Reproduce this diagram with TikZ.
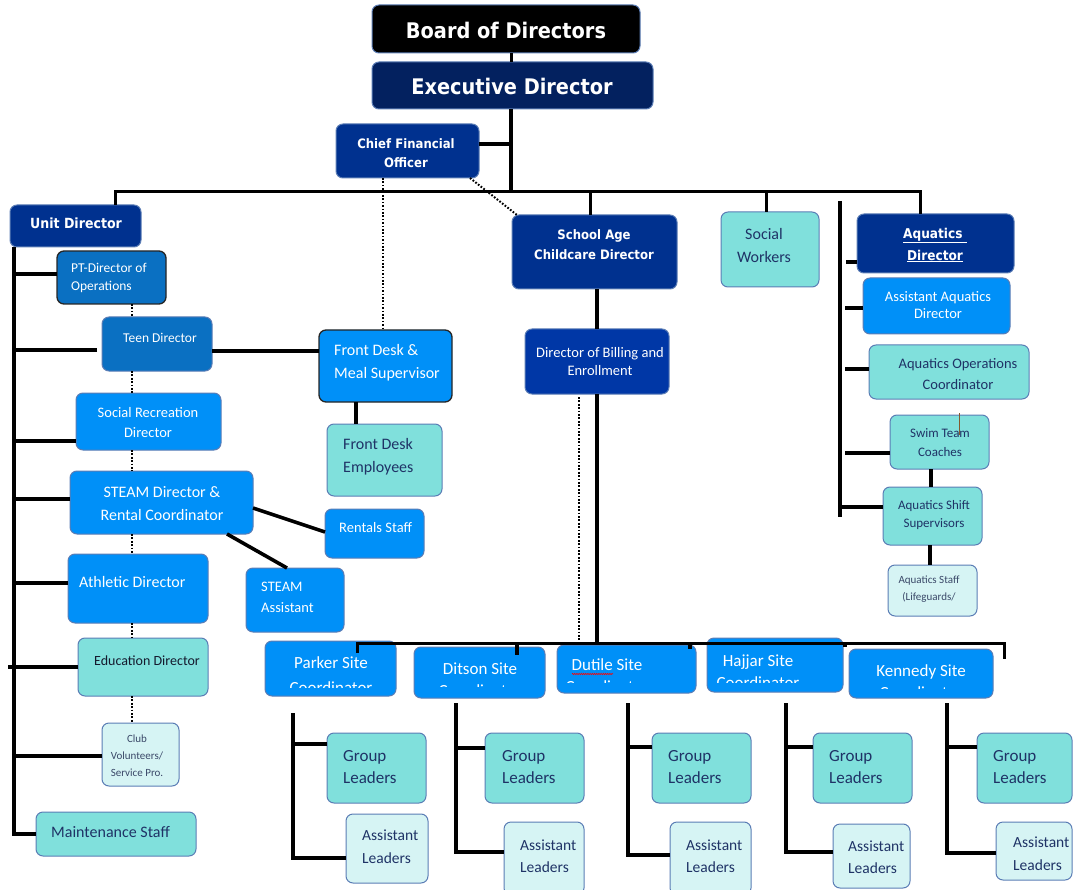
\documentclass[tikz,border=0pt]{standalone}
\usepackage{fontspec}
\setmainfont{Carlito}
\newfontfamily\hf{DejaVu Sans}[FakeStretch=0.9]
\usetikzlibrary{decorations.pathmorphing}
\definecolor{navyb}{HTML}{00318F}
\definecolor{execb}{HTML}{03215F}
\definecolor{billb}{HTML}{0037A6}
\definecolor{midb}{HTML}{0A70C2}
\definecolor{brightb}{HTML}{0090F8}
\definecolor{tealb}{HTML}{80E0DC}
\definecolor{lightb}{HTML}{D6F4F4}
\definecolor{bord}{HTML}{5B7DB5}
\definecolor{navtx}{HTML}{1F3366}
\definecolor{graytx}{HTML}{3A4868}
\definecolor{darktx}{HTML}{151A2E}
\newcommand\fs[2]{\fontsize{#1}{#2}\selectfont}
\newcommand\bx[6]{\node[box,#6,minimum width={#4-#2},minimum height={#5-#3}] (#1) at ({(#2+#4)/2},{(#3+#5)/2}) {};}
\newcommand\tx[5]{\node[#2] (#1) at (#3,#4) {#5};}
\begin{document}
\begin{tikzpicture}[x=1pt,y=-1pt,
  box/.style={draw=bord,line width=1pt,rounded corners=7pt,inner sep=0pt,outer sep=0pt},
  dk/.style={draw=black!85,line width=1.3pt},
  conn/.style={line width=3.6pt,black},
  bar/.style={line width=3pt,black},
  dotl/.style={line width=2pt,black,dash pattern=on 1.7pt off 1.7pt},
  wt/.style={text=white,inner sep=0pt,align=center},
  nt/.style={text=navtx,inner sep=0pt,align=center},
  lft/.style={anchor=west,align=left}]
\useasboundingbox (0,0) rectangle (1073,890);
% ---------- boxes ----------
\bx{board}{372}{5}{640}{53}{fill=black}
\bx{exec}{372}{62}{653}{109}{fill=execb}
\bx{cfo}{336}{124}{479}{178}{fill=navyb}
\bx{ud}{10}{205}{141}{247}{fill=navyb}
\bx{sa}{512}{215}{677}{289}{fill=navyb}
\bx{sw}{721}{212}{819}{287}{fill=tealb}
\bx{aq}{857}{214}{1014}{273}{fill=navyb}
\bx{aqa}{863}{278}{1010}{334}{fill=brightb}
\bx{aqo}{869}{345}{1029}{399}{fill=tealb}
\bx{swim}{890}{415}{989}{469}{fill=tealb}
\bx{shift}{883}{487}{982}{545}{fill=tealb}
\bx{staff}{888}{565}{977}{616}{fill=lightb}
\bx{bill}{525}{329}{669}{394}{fill=billb}
\bx{pt}{57}{251}{166}{304}{fill=midb,dk}
\bx{teen}{102}{317}{212}{371}{fill=midb}
\bx{socrec}{76}{393}{221}{450}{fill=brightb}
\bx{steam}{70}{471}{253}{534}{fill=brightb}
\bx{ath}{68}{554}{208}{623}{fill=brightb}
\bx{edu}{78}{638}{208}{696}{fill=tealb}
\bx{club}{102}{723}{179}{786}{fill=lightb}
\bx{maint}{36}{812}{196}{856}{fill=tealb}
\bx{fd}{319}{330}{452}{402}{fill=brightb,dk}
\bx{fde}{327}{424}{442}{496}{fill=tealb}
\bx{rent}{325}{509}{424}{558}{fill=brightb}
\bx{sta}{246}{568}{344}{632}{fill=brightb}
\bx{pk}{265}{641}{396}{696}{fill=brightb}
\bx{dt}{414}{647}{545}{698}{fill=brightb}
\bx{du}{557}{645}{696}{693}{fill=brightb}
\bx{hj}{707}{638}{843}{692}{fill=brightb}
\bx{kn}{849}{649}{993}{698}{fill=brightb}
\bx{pkg}{327}{733}{426}{803}{fill=tealb}
\bx{pka}{346}{814}{428}{883}{fill=lightb}
\bx{dtg}{485}{733}{584}{803}{fill=tealb}
\bx{dta}{504}{822}{584}{895}{fill=lightb}
\bx{dug}{652}{733}{751}{803}{fill=tealb}
\bx{dua}{670}{822}{751}{895}{fill=lightb}
\bx{hjg}{813}{733}{912}{803}{fill=tealb}
\bx{hja}{833}{824}{910}{888}{fill=lightb}
\bx{kng}{977}{733}{1072}{803}{fill=tealb}
\bx{kna}{996}{822}{1072}{880}{fill=lightb}
% ---------- texts ----------
\tx{boardt}{wt,font=\hf\bfseries\fs{21.5}{26}}{506}{30}{Board of Directors}
\tx{exect}{wt,font=\hf\bfseries\fs{21.5}{26}}{512}{86}{Executive Director}
\tx{cfot}{wt,font=\hf\bfseries\fs{13}{19}}{406}{153}{Chief Financial\\Officer}
\tx{udt}{wt,font=\hf\bfseries\fs{14}{18}}{76}{223}{Unit Director}
\tx{sat}{wt,font=\hf\bfseries\fs{13}{20}}{594}{245}{School Age\\Childcare Director}
\tx{aqt}{wt,font=\hf\bfseries\fs{13.5}{22}}{935}{245}{\underline{Aquatics\ }\\\underline{Director}}
\tx{swt}{nt,font=\fs{16}{23}}{764}{246}{Social\\Workers}
\tx{aqat}{wt,font=\fs{14.5}{17}}{938}{305}{Assistant Aquatics\\Director}
\tx{aqot}{nt,font=\fs{14.5}{21}}{958}{374}{Aquatics Operations\\Coordinator}
\tx{swimt}{nt,font=\fs{13}{19}}{940}{443}{Swim Team\\Coaches}
\tx{shiftt}{nt,font=\fs{13}{18}}{934}{515}{Aquatics Shift\\Supervisors}
\tx{stafft}{text=graytx,inner sep=0pt,align=center,font=\fs{11}{17}}{929}{589}{Aquatics Staff\\(Lifeguards/}
\tx{billt}{wt,font=\fs{14.5}{18}}{600}{362}{Director of Billing and\\Enrollment}
\tx{ptt}{wt,lft,font=\fs{13.5}{18}}{71}{278}{PT-Director of\\Operations}
\tx{teent}{wt,font=\fs{13.5}{17}}{160}{338}{Teen Director}
\tx{socrect}{wt,font=\fs{14.5}{20}}{148}{423}{Social Recreation\\Director}
\tx{steamt}{wt,font=\fs{16}{23}}{162}{504}{STEAM Director \&\\Rental Coordinator}
\tx{atht}{wt,lft,font=\fs{16}{20}}{79}{582}{Athletic Director}
\tx{edut}{text=darktx,inner sep=0pt,lft,font=\fs{14}{18}}{94}{661}{Education Director}
\tx{clubt}{text=graytx,inner sep=0pt,align=center,font=\fs{11}{17}}{137}{756}{Club\\Volunteers/\\Service Pro.}
\tx{maintt}{nt,lft,font=\fs{16}{20}}{51}{832}{Maintenance Staff}
\tx{fdt}{wt,lft,font=\fs{16}{23}}{334}{363}{Front Desk \&\\Meal Supervisor}
\tx{fdet}{nt,lft,font=\fs{16}{23}}{343}{457}{Front Desk\\Employees}
\tx{rentt}{wt,lft,font=\fs{14.5}{18}}{339}{528}{Rentals Staff}
\tx{stat}{wt,lft,font=\fs{14.5}{21}}{261}{597}{STEAM\\Assistant}
% site names (second line cut off by the box)
\begin{scope}
\clip (265,641) rectangle (396,687);
\tx{pkt}{wt,font=\fs{17}{25}}{331}{675}{Parker Site\\Coordinator}
\end{scope}
\begin{scope}
\clip (414,647) rectangle (545,686);
\tx{dtt}{wt,font=\fs{17}{22}}{480}{680}{Ditson Site\\Coordinator}
\end{scope}
\begin{scope}
\clip (557,645) rectangle (696,682);
\tx{dut}{wt,font=\fs{17}{22}}{607}{676}{Dutile Site\\Coordinator}
\end{scope}
\begin{scope}
\clip (707,638) rectangle (843,682);
\tx{hjt}{wt,font=\fs{17}{22}}{758}{672}{Hajjar Site\\Coordinator}
\end{scope}
\begin{scope}
\clip (849,649) rectangle (993,688);
\tx{knt}{wt,font=\fs{17}{22}}{921}{682}{Kennedy Site\\Coordinator}
\end{scope}
\draw[red,line width=0.6pt,decorate,decoration={zigzag,segment length=2.2pt,amplitude=0.7pt}] (572,674) -- (613,674);
% group / assistant texts
\tx{pkgt}{nt,lft,font=\fs{17}{22}}{343}{767}{Group\\Leaders}
\tx{dtgt}{nt,lft,font=\fs{17}{22}}{502}{767}{Group\\Leaders}
\tx{dugt}{nt,lft,font=\fs{17}{22}}{668}{767}{Group\\Leaders}
\tx{hjgt}{nt,lft,font=\fs{17}{22}}{829}{767}{Group\\Leaders}
\tx{kngt}{nt,lft,font=\fs{17}{22}}{993}{767}{Group\\Leaders}
\tx{pkat}{nt,lft,font=\fs{15.5}{23}}{362}{847}{Assistant\\Leaders}
\tx{dtat}{nt,lft,font=\fs{15.5}{22}}{520}{856}{Assistant\\Leaders}
\tx{duat}{nt,lft,font=\fs{15.5}{22}}{686}{856}{Assistant\\Leaders}
\tx{hjat}{nt,lft,font=\fs{15.5}{22}}{848}{857}{Assistant\\Leaders}
\begin{scope}
\clip (996,822) rectangle (1072,872);
\tx{knat}{nt,lft,font=\fs{15.5}{23}}{1013}{854}{Assistant\\Leaders}
\end{scope}
% Swim Team mark
\draw[brown!70!black,line width=0.7pt] (959,413) -- (959,435);
% ---------- connectors ----------
\coordinate (jx) at (511,192);
\coordinate (barL) at (115,192);
\coordinate (barR) at (920,192);
\draw[bar] (board.south -| jx) -- (exec.north -| jx);
\draw[conn] (exec.south -| jx) -- (jx);
\draw[conn] ([yshift=7pt]cfo.east) -- ([yshift=7pt]cfo.east -| jx);
\draw[bar] (ud.north -| barL) -- (barL) -- (barR) -- (aq.north -| barR);
\draw[bar] ([xshift=-4.5pt]sa.north) -- ([xshift=-4.5pt]sa.north |- barL);
\draw[bar] ([xshift=-4pt]sw.north) -- ([xshift=-4pt]sw.north |- barL);
\draw[dotl] ([xshift=-24.5pt]cfo.south) -- ([xshift=-24.5pt]cfo.south |- fd.north);
\draw[dotl] ([xshift=-9pt]cfo.south east) -- ([xshift=5pt]sa.north west);
% left column
\coordinate (ls) at (14,247);
\coordinate (dl) at (132,300);
\draw[conn] (ls) |- (maint.west);
\draw[conn] ([yshift=3.5pt]pt.west) -- ([yshift=3.5pt]pt.west -| ls);
\draw[conn] ([yshift=-6pt,xshift=-5pt]teen.west) -- ([yshift=-6pt]teen.west -| ls);
\draw[conn] ([yshift=-19.5pt]socrec.west) -- ([yshift=-19.5pt]socrec.west -| ls);
\draw[conn] ([yshift=3.5pt]steam.west) -- ([yshift=3.5pt]steam.west -| ls);
\draw[conn] ([yshift=5.5pt]ath.west) -- ([yshift=5.5pt]ath.west -| ls);
\draw[conn] (edu.west) -- ([xshift=-6pt]edu.west -| ls);
\draw[conn] ([yshift=-1.5pt]club.west) -- ([yshift=-1.5pt]club.west -| ls);
\draw[dotl] (pt.south -| dl) -- (teen.north -| dl);
\draw[dotl] (teen.south -| dl) -- (socrec.north -| dl);
\draw[dotl] (socrec.south -| dl) -- (steam.north -| dl);
\draw[dotl] (steam.south -| dl) -- (ath.north -| dl);
\draw[dotl] (ath.south -| dl) -- (edu.north -| dl);
\draw[dotl] (edu.south -| dl) -- (club.north -| dl);
\draw[conn] ([yshift=-7pt]teen.east) -- ([yshift=-7pt]teen.east -| fd.west);
\draw[conn] ([xshift=-29.5pt]fd.south) -- ([xshift=-29.5pt]fd.south |- fde.north);
\draw[conn] ([yshift=-5.5pt]steam.east) -- ([yshift=1.5pt]rent.west);
\draw[conn] ([xshift=65.5pt]steam.south) -- ([xshift=-8pt]sta.north);
% school age column
\coordinate (sbL) at (357,643);
\coordinate (sbR) at (1004,643);
\coordinate (dtd) at (517,643);
\coordinate (dud) at (690,643);
\coordinate (hjd) at (845,643);
\draw[conn] ([xshift=2.5pt]sa.south) -- ([xshift=2.5pt]sa.south |- bill.north);
\draw[conn] (bill.south) -- (bill.south |- sbL);
\draw[dotl] ([xshift=-18pt,yshift=-3pt]bill.south) -- ([xshift=-18pt]bill.south |- 0,640);
\draw[bar] ([yshift=-12pt]pk.north -| sbL) -- (sbL) -- (sbR) -- ([yshift=-10pt]kn.north -| sbR);
\draw[conn] (dtd) -- ([yshift=-8pt]dt.north -| dtd);
\draw[conn] (dud) -- ([yshift=-4pt]du.north -| dud);
\draw[conn] (hjd) -- ([yshift=-9pt]hj.north -| hjd);
% site subtrees
\coordinate (pkv) at (293,713);
\coordinate (dtv) at (456,703);
\coordinate (duv) at (628,703);
\coordinate (hjv) at (786,703);
\coordinate (knv) at (947,703);
\draw[conn] (pkv) |- ([yshift=-9.5pt]pka.west);
\draw[conn] ([yshift=24pt]pkg.west) -- ([yshift=24pt]pkg.west -| pkv);
\draw[conn] (dtv) |- ([yshift=6.5pt]dta.west);
\draw[conn] ([yshift=20pt]dtg.west) -- ([yshift=20pt]dtg.west -| dtv);
\draw[conn] (duv) |- ([yshift=3.5pt]dua.west);
\draw[conn] ([yshift=21pt]dug.west) -- ([yshift=21pt]dug.west -| duv);
\draw[conn] (hjv) |- ([yshift=4pt]hja.west);
\draw[conn] ([yshift=21pt]hjg.west) -- ([yshift=21pt]hjg.west -| hjv);
\draw[conn] (knv) |- ([yshift=-2pt]kna.west);
\draw[conn] ([yshift=21pt]kng.west) -- ([yshift=21pt]kng.west -| knv);
% aquatics column
\coordinate (as) at (840,201);
\coordinate (ase) at (840,517);
\draw[conn] (as) -- (ase);
\draw[conn] ([yshift=-18.5pt]aq.west) -- ++(-11,0);
\draw[conn] ([yshift=-2pt]aqa.west) -- ++(-18,0);
\draw[conn] ([yshift=3pt]aqo.west) -- ++(-24,0);
\draw[conn] ([yshift=-11pt]swim.west) -- ++(-45,0);
\draw[conn] ([yshift=9pt]shift.west) -- ([yshift=9pt]shift.west -| as);
\draw[conn] ([xshift=-8.5pt]swim.south) -- ([xshift=-8.5pt]swim.south |- shift.north);
\draw[conn] ([xshift=-2.5pt]shift.south) -- ([xshift=-2.5pt]shift.south |- staff.north);
\end{tikzpicture}
\end{document}
